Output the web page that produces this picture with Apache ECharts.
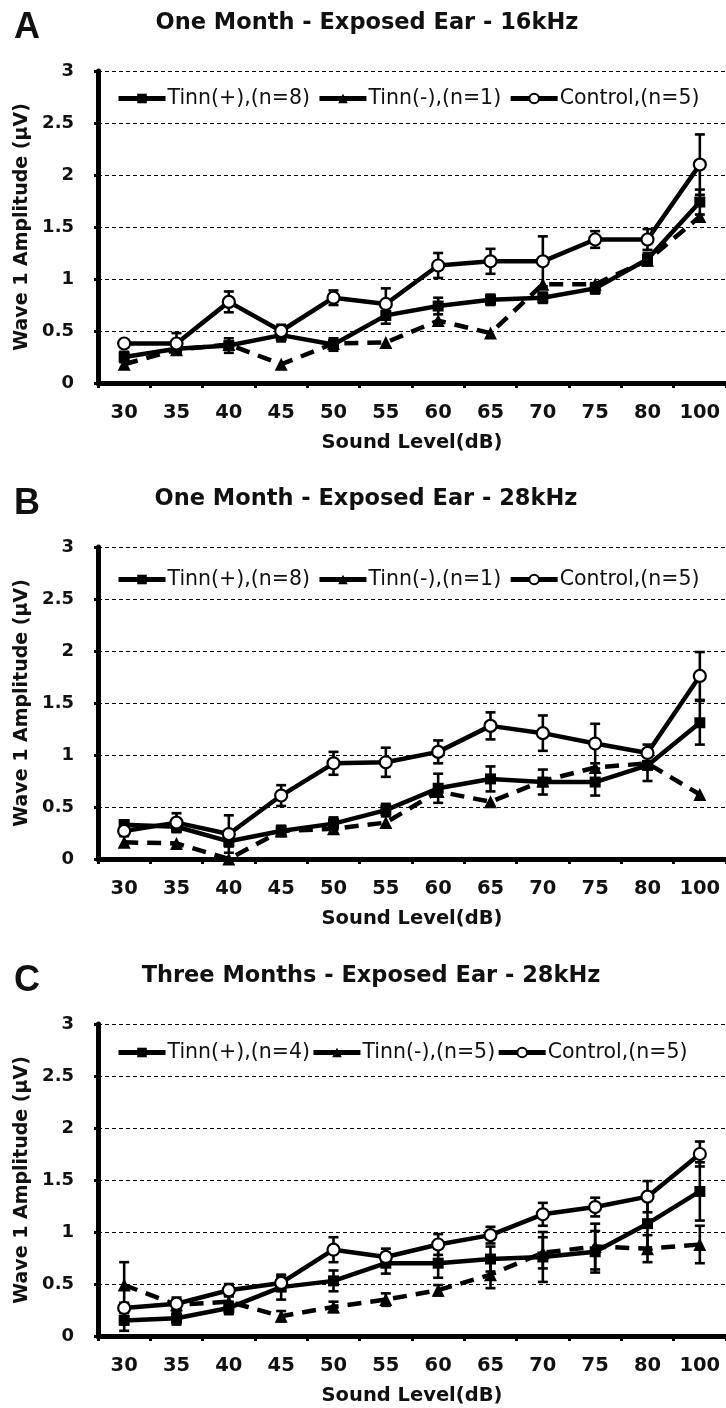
<!DOCTYPE html>
<html>
<head>
<meta charset="utf-8">
<script src="https://cdn.jsdelivr.net/npm/echarts@6/dist/echarts.min.js"></script>
<style>
html,body{margin:0;padding:0;background:#fff;}
#chart{width:726px;height:1408px;}
</style>
</head>
<body>
<div id="chart"></div>
<script>
// ---------- data ----------
const categories = ['30','35','40','45','50','55','60','65','70','75','80','100'];
const yTicks = [0, 0.5, 1, 1.5, 2, 2.5, 3];

const panelLetters = ['A', 'B', 'C'];
const panelTitles = [
  'One Month - Exposed Ear - 16kHz',
  'One Month - Exposed Ear - 28kHz',
  'Three Months - Exposed Ear - 28kHz'
];
const namesA = ['Tinn(+),(n=8)', 'Tinn(-),(n=1)', 'Control,(n=5)'];
const namesB = ['Tinn(+),(n=8)', 'Tinn(-),(n=1)', 'Control,(n=5)'];
const namesC = ['Tinn(+),(n=4)', 'Tinn(-),(n=5)', 'Control,(n=5)'];

// Panel A
const tinnPlusA    = [0.25, 0.33, 0.36, 0.46, 0.37, 0.65, 0.74, 0.80, 0.82, 0.91, 1.19, 1.74];
const tinnPlusErrA = [0.05, 0.04, 0.07, 0.06, 0.06, 0.08, 0.08, 0.05, 0.05, 0.05, 0.06, 0.12];
const tinnMinusA   = [0.18, 0.32, 0.37, 0.18, 0.38, 0.39, 0.60, 0.48, 0.95, 0.95, 1.18, 1.60];
const controlA     = [0.38, 0.38, 0.78, 0.50, 0.82, 0.76, 1.13, 1.17, 1.17, 1.38, 1.38, 2.10];
const controlErrA  = [0.03, 0.10, 0.10, 0.06, 0.07, 0.15, 0.12, 0.12, 0.24, 0.08, 0.10, 0.29];

// Panel B
const tinnPlusB    = [0.33, 0.31, 0.17, 0.27, 0.34, 0.47, 0.68, 0.77, 0.74, 0.74, 0.90, 1.31];
const tinnPlusErrB = [0.04, 0.05, 0.05, 0.05, 0.06, 0.06, 0.14, 0.12, 0.12, 0.13, 0.15, 0.21];
const tinnMinusB   = [0.16, 0.15, 0.00, 0.27, 0.29, 0.35, 0.65, 0.55, 0.75, 0.88, 0.92, 0.62];
const controlB     = [0.27, 0.35, 0.24, 0.61, 0.92, 0.93, 1.03, 1.28, 1.21, 1.11, 1.02, 1.76];
const controlErrB  = [0.05, 0.09, 0.18, 0.10, 0.11, 0.14, 0.11, 0.13, 0.17, 0.19, 0.08, 0.23];

// Panel C
const tinnPlusC     = [0.15, 0.17, 0.27, 0.47, 0.53, 0.70, 0.70, 0.74, 0.76, 0.81, 1.08, 1.39];
const tinnPlusErrC  = [0.10, 0.06, 0.06, 0.12, 0.10, 0.10, 0.14, 0.12, 0.24, 0.20, 0.25, 0.28];
const tinnMinusC    = [0.49, 0.30, 0.33, 0.19, 0.28, 0.35, 0.44, 0.59, 0.80, 0.86, 0.84, 0.88];
const tinnMinusErrC = [0.22, 0.05, 0.06, 0.05, 0.05, 0.06, 0.05, 0.13, 0.15, 0.22, 0.13, 0.18];
const controlC      = [0.27, 0.31, 0.44, 0.51, 0.83, 0.76, 0.88, 0.97, 1.17, 1.24, 1.34, 1.75];
const controlErrC   = [0.05, 0.06, 0.06, 0.06, 0.12, 0.08, 0.10, 0.08, 0.11, 0.09, 0.15, 0.12];

// ---------- build ----------
const panels = [
  {names: namesA, plus: tinnPlusA, plusErr: tinnPlusErrA, minus: tinnMinusA, minusErr: null, ctrl: controlA, ctrlErr: controlErrA},
  {names: namesB, plus: tinnPlusB, plusErr: tinnPlusErrB, minus: tinnMinusB, minusErr: null, ctrl: controlB, ctrlErr: controlErrB},
  {names: namesC, plus: tinnPlusC, plusErr: tinnPlusErrC, minus: tinnMinusC, minusErr: tinnMinusErrC, ctrl: controlC, ctrlErr: controlErrC}
];

const gridTops = [71, 547, 1024];
const gridH = 312;
const legendTops = [83, 564, 1037];
const legendGaps = [7, 7, 1];
const titleY = [23, 499, 976];
const titleX = [367, 366, 371];

const FONT = 'DejaVu Sans';
const grids = [], xAxes = [], yAxes = [], series = [], legends = [], graphics = [];

function errData(vals, errs) {
  return vals.map((v, i) => [i, Math.max(0, v - errs[i]), v + errs[i]]);
}
function errRender(params, api) {
  const x = api.value(0);
  const lo = api.coord([x, api.value(1)]);
  const hi = api.coord([x, api.value(2)]);
  const c = 5;
  const st = {stroke: '#000', lineWidth: 2.6};
  return {type: 'group', children: [
    {type: 'line', shape: {x1: lo[0], y1: lo[1], x2: hi[0], y2: hi[1]}, style: st},
    {type: 'line', shape: {x1: hi[0] - c, y1: hi[1], x2: hi[0] + c, y2: hi[1]}, style: st},
    {type: 'line', shape: {x1: lo[0] - c, y1: lo[1], x2: lo[0] + c, y2: lo[1]}, style: st}
  ]};
}

panels.forEach((p, k) => {
  grids.push({left: 98, right: 0, top: gridTops[k], height: gridH, containLabel: false});
  xAxes.push({
    type: 'category', gridIndex: k, data: categories, boundaryGap: true,
    name: 'Sound Level(dB)', nameLocation: 'middle', nameGap: 50,
    nameTextStyle: {fontFamily: FONT, fontWeight: 'bold', fontSize: 19.5, color: '#111'},
    axisLine: {lineStyle: {color: '#000', width: 5}},
    axisTick: {show: true, inside: false, length: 5, alignWithLabel: false, lineStyle: {color: '#000', width: 3}},
    axisLabel: {fontFamily: FONT, fontWeight: 'bold', fontSize: 19.5, color: '#111', margin: 20, interval: 0},
    splitLine: {show: false}
  });
  yAxes.push({
    type: 'value', gridIndex: k, min: yTicks[0], max: yTicks[yTicks.length - 1], interval: yTicks[1] - yTicks[0],
    name: 'Wave 1 Amplitude (\u03BCV)', nameLocation: 'middle', nameGap: 64, nameRotate: 90,
    nameTextStyle: {fontFamily: FONT, fontWeight: 'bold', fontSize: 19, color: '#111'},
    axisLine: {show: true, lineStyle: {color: '#000', width: 5}},
    axisTick: {show: true, length: 4, lineStyle: {color: '#000', width: 3}},
    axisLabel: {fontFamily: FONT, fontWeight: 'bold', fontSize: 18, color: '#111', margin: 24},
    splitLine: {show: true, lineStyle: {color: '#000', width: 1.2, type: [4, 3]}}
  });

  // error bars (drawn under lines)
  const errSets = [[p.plus, p.plusErr], [p.minus, p.minusErr], [p.ctrl, p.ctrlErr]];
  errSets.forEach(([v, e]) => {
    if (!e) return;
    series.push({
      type: 'custom', xAxisIndex: k, yAxisIndex: k, z: 1, silent: true,
      renderItem: errRender, encode: {x: 0, y: [1, 2]}, data: errData(v, e)
    });
  });

  series.push({
    name: p.names[0], type: 'line', xAxisIndex: k, yAxisIndex: k, z: 3,
    data: p.plus, symbol: 'rect', symbolSize: 11,
    lineStyle: {color: '#000', width: 4.5},
    itemStyle: {color: '#000'}
  });
  series.push({
    name: p.names[1], type: 'line', xAxisIndex: k, yAxisIndex: k, z: 3,
    data: p.minus, symbol: 'triangle', symbolSize: 13,
    lineStyle: {color: '#000', width: 4.5, type: [14, 9]},
    itemStyle: {color: '#000'}
  });
  series.push({
    name: p.names[2], type: 'line', xAxisIndex: k, yAxisIndex: k, z: 4,
    data: p.ctrl, symbol: 'circle', symbolSize: 12,
    lineStyle: {color: '#000', width: 4.5},
    itemStyle: {color: '#fff', borderColor: '#000', borderWidth: 2.2}
  });

  legends.push({
    data: p.names, left: 111, top: legendTops[k], orient: 'horizontal',
    itemWidth: 47, itemHeight: 12, itemGap: legendGaps[k],
    selectedMode: false,
    lineStyle: {width: 5, type: 'solid'},
    textStyle: {fontFamily: FONT, fontSize: 20.5, color: '#111', padding: [0, 0, 0, -3]}
  });

  graphics.push({
    type: 'text', left: 14, top: titleY[k] - 13,
    style: {text: panelLetters[k], fontFamily: 'Liberation Sans', fontWeight: 'bold', fontSize: 36, fill: '#111'}
  });
  graphics.push({
    type: 'text', x: titleX[k], y: titleY[k],
    style: {text: panelTitles[k], fontFamily: FONT, fontWeight: 'bold', fontSize: 22.5, fill: '#111',
            textAlign: 'center', textVerticalAlign: 'middle'}
  });
});

const chart = echarts.init(document.getElementById('chart'), null, {renderer: 'canvas'});
chart.setOption({
  backgroundColor: '#fff',
  animation: false,
  grid: grids,
  xAxis: xAxes,
  yAxis: yAxes,
  legend: legends,
  series: series,
  graphic: graphics
});
</script>
</body>
</html>
